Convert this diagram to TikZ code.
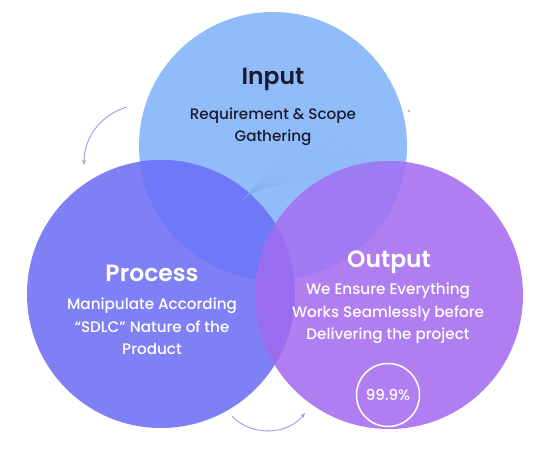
\documentclass[tikz,border=0pt]{standalone}
\usepackage{fontspec}
\setmainfont{Poppins}
\newfontfamily\popmed{Poppins Medium}
\newfontfamily\popsemi{Poppins SemiBold}
\usetikzlibrary{arrows.meta}
\definecolor{cIn}{HTML}{90BCF9}
\definecolor{cPr}{HTML}{7F80F5}
\definecolor{cOu}{HTML}{B07EF1}
\definecolor{cIP}{HTML}{6E78F8}
\definecolor{cIO}{HTML}{A07AF3}
\definecolor{cPO}{HTML}{9A6CF0}
\definecolor{cArr}{HTML}{9C9CEE}
\definecolor{cDark}{HTML}{1B1B2F}
\definecolor{cTex}{HTML}{7FA6EE}
\tikzset{
  title/.style={font=\popsemi\fontsize{23.5}{26}\selectfont, anchor=base, inner sep=0pt},
  body/.style={font=\popmed\fontsize{15.2}{18}\selectfont, anchor=base, inner sep=0pt},
  flow/.style={draw=cArr, line width=0.9pt, -{Stealth[length=5pt,width=4pt]}},
}
\begin{document}
\begin{tikzpicture}[x=1pt,y=-1pt]
\useasboundingbox (0,0) rectangle (539,463);
\fill[white] (0,0) rectangle (539,463);
\def\R{134}
\coordinate (cin) at (273,146);
\coordinate (cpr) at (161,294);
\coordinate (cou) at (389,295);
% circles
\fill[cIn] (cin) circle (\R pt);
\fill[cPr] (cpr) circle (\R pt);
\fill[cOu] (cou) circle (\R pt);
% overlaps
\begin{scope}
  \clip (cin) circle (\R pt);
  \fill[cIP] (cpr) circle (\R pt);
  \fill[cIO] (cou) circle (\R pt);
\end{scope}
\begin{scope}
  \clip (cpr) circle (\R pt);
  \fill[cPO] (cou) circle (\R pt);
\end{scope}
% faint texture lines in input circle
\begin{scope}
  \clip (cin) circle (\R pt);
  \foreach \k in {0,...,11}{
    \draw[cTex, opacity=0.35, line width=0.4pt]
      (243,200) .. controls (262,175) and ({285+\k*7},{160+\k*2}) .. ({300+\k*9},{120+\k*4});
  }
\end{scope}
% texts
\node[title, text=cDark] (tin) at (273,84) {Input};
\node[body, text=cDark] (bin1) at (273,119) {Requirement \& Scope};
\node[body, text=cDark] (bin2) at (273,141) {Gathering};
\node[title, text=white] (tpr) at (152,281) {Process};
\node[body, text=white] (bpr1) at (152,309) {Manipulate According};
\node[body, text=white] (bpr2) at (152,332) {“SDLC” Nature of the};
\node[body, text=white] (bpr3) at (152,354) {Product};
\node[title, text=white] (tou) at (389,267) {Output};
\node[body, text=white] (bou1) at (388,294) {We Ensure Everything};
\node[body, text=white] (bou2) at (388,317) {Works Seamlessly before};
\node[body, text=white] (bou3) at (388,339) {Delivering the project};
\node[circle, draw=white, line width=1.5pt, minimum size=63pt, inner sep=0pt,
      font=\popmed\fontsize{15}{17}\selectfont, text=white] (pct) at (388,395) {99.9\%};
% arrows
\coordinate (a1s) at (127,107);
\coordinate (a1e) at (84,165);
\coordinate (a2s) at (232,416);
\coordinate (a2e) at (305,413);
\coordinate (dot) at (409,111);
\draw[flow] (a1s) .. controls (100,115) and (84,138) .. (a1e);
\draw[flow] (a2s) .. controls (250,436) and (287,436) .. (a2e);
\fill[cArr] (dot) circle (1.1pt);
\end{tikzpicture}
\end{document}
